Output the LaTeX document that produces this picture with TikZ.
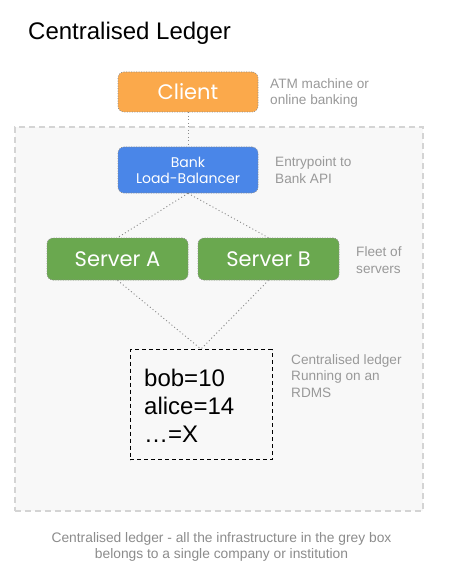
\documentclass[tikz,border=0pt]{standalone}
\usepackage{fontspec}
\setmainfont{Liberation Sans}
\newfontfamily\boxfont{Poppins}
\definecolor{clientorange}{HTML}{FBA94B}
\definecolor{lbblue}{HTML}{4A86E8}
\definecolor{srvgreen}{HTML}{6AA84F}
\definecolor{labelgrey}{HTML}{999999}
\definecolor{capgrey}{HTML}{8C8C8C}
\definecolor{boxfill}{HTML}{F8F8F8}
\definecolor{boxedge}{HTML}{D4D4D4}
\definecolor{linkgrey}{HTML}{8A8A8A}
\begin{document}
\begin{tikzpicture}[x=1pt,y=-1pt,
  colbox/.style={rectangle, rounded corners=6pt, draw=linkgrey, line width=0.6pt,
    dash pattern=on 1pt off 1.5pt, text=white, inner sep=0pt, align=center},
  link/.style={draw=linkgrey, line width=0.9pt, dash pattern=on 1pt off 2.5pt},
  sidelabel/.style={anchor=base west, inner sep=0pt, text=labelgrey, align=left,
    font=\fontsize{13.6}{16.5}\selectfont},
  ledgerline/.style={anchor=base west, inner sep=0pt, font=\fontsize{24}{28}\selectfont}]
\useasboundingbox (0,0) rectangle (451,588);
\fill[white] (0,0) rectangle (451,588);
% grey infrastructure box
\node[draw=boxedge, fill=boxfill, line width=1.3pt, dash pattern=on 6pt off 4pt,
  minimum width=408pt, minimum height=384pt, inner sep=0pt] (infra) at (219,319) {};
% title
\node[anchor=base west, inner sep=0pt, font=\fontsize{24}{28}\selectfont] (title) at (28,40) {Centralised Ledger};
% boxes
\node[colbox, fill=clientorange, minimum width=140pt, minimum height=40pt,
  font=\boxfont\fontsize{21}{24}\selectfont] (client) at (188,92) {Client};
\node[colbox, fill=lbblue, minimum width=140pt, minimum height=46pt,
  font=\boxfont\fontsize{14}{16}\selectfont] (lb) at (188,170) {Bank\\Load-Balancer};
\node[colbox, fill=srvgreen, minimum width=141pt, minimum height=42pt,
  font=\boxfont\fontsize{21}{24}\selectfont] (srva) at (117.5,259) {Server A};
\node[colbox, fill=srvgreen, minimum width=141pt, minimum height=42pt,
  font=\boxfont\fontsize{21}{24}\selectfont] (srvb) at (268.5,259) {Server B};
\node[draw=black, line width=0.9pt, dash pattern=on 4pt off 3pt, minimum width=142pt,
  minimum height=110pt, inner sep=0pt] (ledger) at (201,404.5) {};
\node[ledgerline] (l1) at (144,386) {bob=10};
\node[ledgerline] (l2) at (144,414) {alice=14};
\node[ledgerline] (l3) at (144,442) {…=X};
% connectors
\draw[link] (client.south) -- (lb.north);
\draw[link] (lb.south) -- (srva.north);
\draw[link] (lb.south) -- (srvb.north);
\draw[link] (srva.south) -- (ledger.north);
\draw[link] (srvb.south) -- (ledger.north);
% side labels (base anchor = baseline of the last line)
\node[sidelabel] (cl) at (270,105) {ATM machine or\\online banking};
\node[sidelabel] (lbl) at (275,183) {Entrypoint to\\Bank API};
\node[sidelabel] (sl) at (356,273) {Fleet of\\servers};
\node[sidelabel] (ll) at (291,397) {Centralised ledger\\Running on an\\RDMS};
% caption
\node[anchor=base, inner sep=0pt, text=capgrey, align=center,
  font=\fontsize{13.8}{16}\selectfont] (cap) at (221.5,558)
  {Centralised ledger - all the infrastructure in the grey box\\belongs to a single company or institution};
\end{tikzpicture}
\end{document}
